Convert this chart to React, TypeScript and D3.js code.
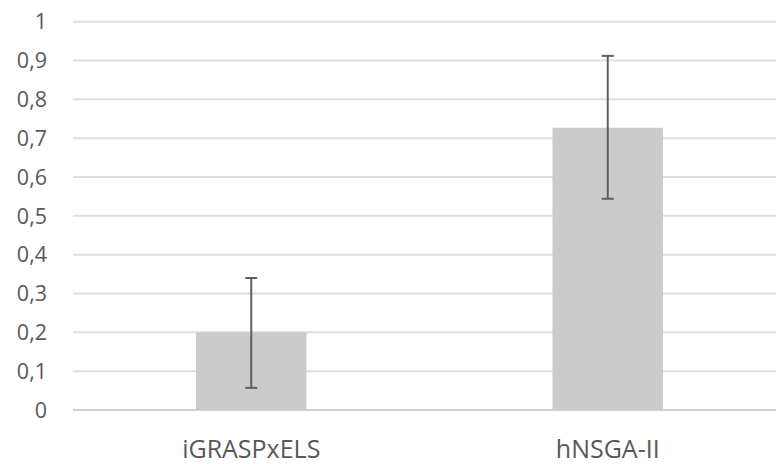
import React from 'react';
import * as d3 from 'd3';

// values
const categories = ['iGRASPxELS', 'hNSGA-II'];
const means = [0.2, 0.727];
const errLow = [0.057, 0.544];
const errHigh = [0.34, 0.912];
const yTicks = [0, 0.1, 0.2, 0.3, 0.4, 0.5, 0.6, 0.7, 0.8, 0.9, 1];

const width = 776;
const height = 464;
const margin = { top: 21.7, right: -10, bottom: 54, left: 73 };

export default function App() {
    const x = d3.scaleBand()
        .domain(categories)
        .range([margin.left, width - margin.right])
        .paddingInner(0.69)
        .paddingOuter(0.345);

    const y = d3.scaleLinear()
        .domain([0, 1])
        .range([height - margin.bottom, margin.top]);

    const fmt = (v: number) => (v === 0 || v === 1 ? String(v) : d3.format('.1f')(v).replace('.', ','));
    const font = '"Open Sans", sans-serif';

    return (
        <div style={{ position: 'fixed', left: 0, top: 0 }}>
            <svg width={width} height={height} style={{ display: 'block', background: '#fff' }}>
                {/* gridlines */}
                {yTicks.map(t => (
                    <g key={t}>
                        <line x1={margin.left} x2={width} y1={y(t)} y2={y(t)}
                            stroke={t === 0 ? '#d0d0d0' : '#dedede'} strokeWidth={2} />
                        <text x={47} y={y(t)} dy="0.36em" textAnchor="end"
                            fontFamily={font} fontSize={21.5} fill="#595959">{fmt(t)}</text>
                    </g>
                ))}

                {/* bars */}
                {categories.map((c, i) => (
                    <rect key={c} x={x(c)} y={y(means[i])} width={x.bandwidth()}
                        height={y(0) - y(means[i])} fill="#cbcbcb" />
                ))}

                {/* error bars */}
                {categories.map((c, i) => {
                    const cx = (x(c) as number) + x.bandwidth() / 2;
                    return (
                        <g key={c} stroke="#5f5f5f" strokeWidth={2}>
                            <line x1={cx} x2={cx} y1={y(errLow[i])} y2={y(errHigh[i])} />
                            <line x1={cx - 6} x2={cx + 6} y1={y(errLow[i])} y2={y(errLow[i])} />
                            <line x1={cx - 6} x2={cx + 6} y1={y(errHigh[i])} y2={y(errHigh[i])} />
                        </g>
                    );
                })}

                {/* category labels */}
                {categories.map(c => (
                    <text key={c} x={(x(c) as number) + x.bandwidth() / 2} y={458}
                        textAnchor="middle" fontFamily={font} fontSize={25} fill="#595959">{c}</text>
                ))}
            </svg>
        </div>
    );
}
